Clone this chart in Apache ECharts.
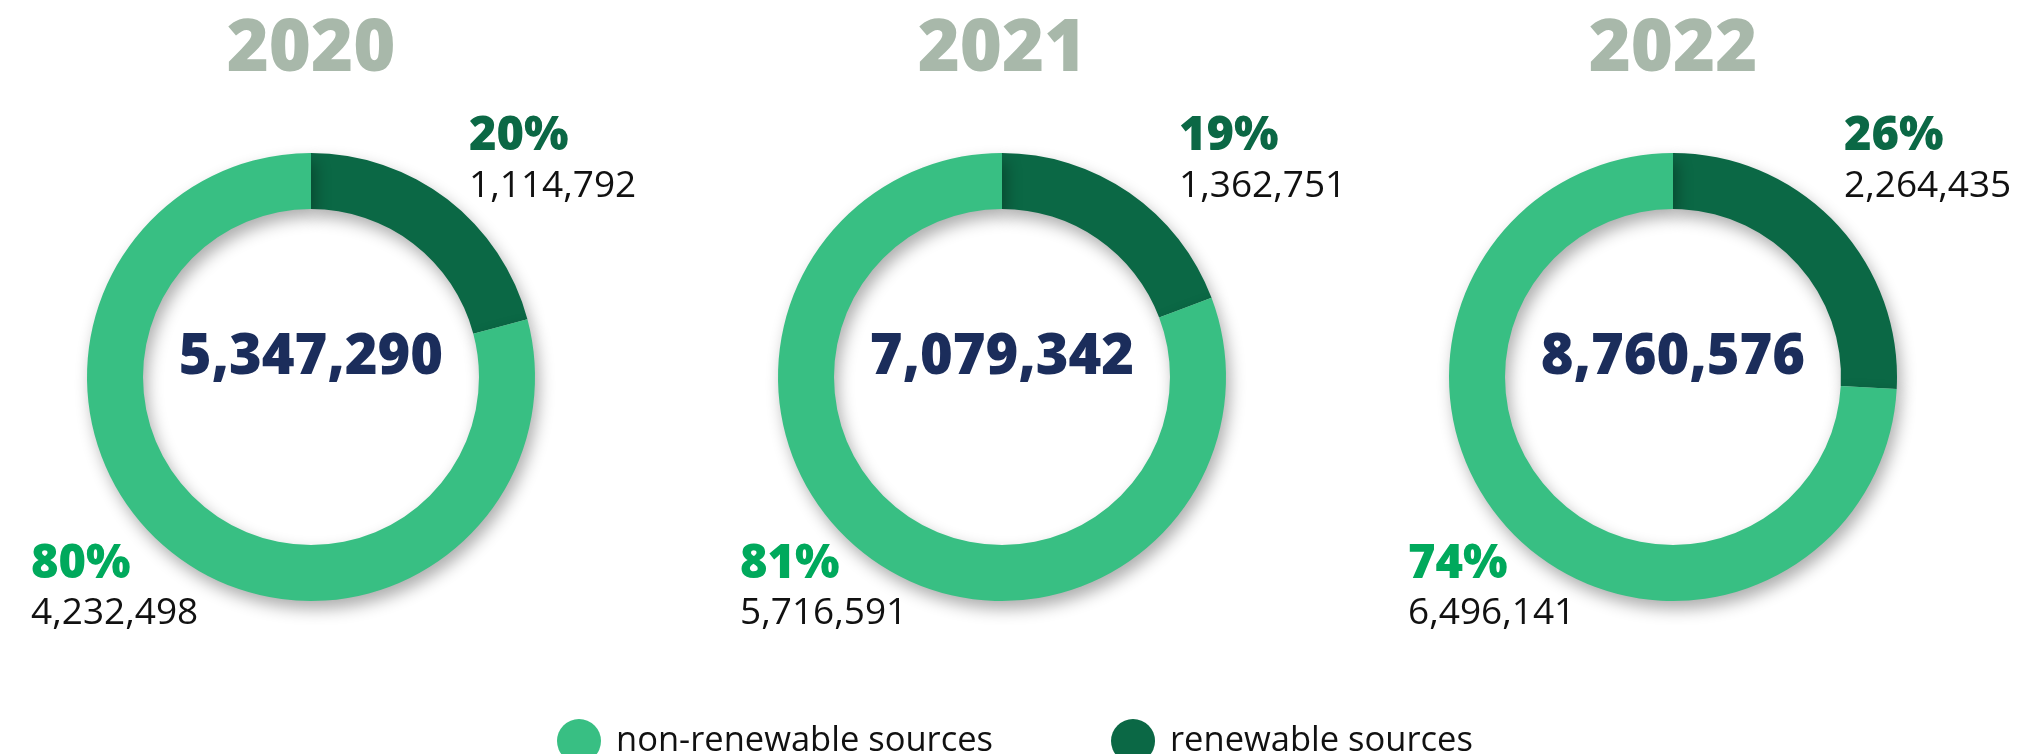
<!DOCTYPE html>
<html>
<head>
<meta charset="utf-8">
<script src="https://cdn.jsdelivr.net/npm/echarts@6/dist/echarts.min.js"></script>
<style>
html,body{margin:0;padding:0;background:#fff;}
#chart{width:2019px;height:754px;}
</style>
</head>
<body>
<div id="chart"></div>
<script>
const years = ['2020', '2021', '2022'];
const categories = ['renewable sources', 'non-renewable sources'];
const renewable = [1114792, 1362751, 2264435];
const nonRenewable = [4232498, 5716591, 6496141];
const renewablePct = ['20%', '19%', '26%'];
const nonRenewablePct = ['80%', '81%', '74%'];

const colorRenew = '#0b6845';
const colorNon = '#38bf83';
const centers = [[311, 377], [1002, 377], [1673, 377]];
const rightLabelX = [469, 1179, 1844];
const leftLabelX = [31, 740, 1408];

const fmt = v => v.toLocaleString('en-US');
const font = '"Open Sans", "Noto Sans", sans-serif';

const series = years.map((y, i) => ({
  type: 'pie',
  name: y,
  center: centers[i],
  radius: [168, 224],
  startAngle: 90,
  clockwise: true,
  silent: true,
  label: { show: false },
  labelLine: { show: false },
  itemStyle: {
    shadowBlur: 16,
    shadowColor: 'rgba(0,0,0,0.32)',
    shadowOffsetX: 4,
    shadowOffsetY: 8
  },
  data: [
    { name: categories[0], value: renewable[i], itemStyle: { color: colorRenew } },
    { name: categories[1], value: nonRenewable[i], itemStyle: { color: colorNon } }
  ]
}));

const graphics = [];
years.forEach((y, i) => {
  const total = renewable[i] + nonRenewable[i];
  graphics.push({ type: 'text', x: centers[i][0], y: 50, style: { text: y, font: '800 72px ' + font, fill: '#a8b8aa', textAlign: 'center', textVerticalAlign: 'middle' } });
  graphics.push({ type: 'text', x: centers[i][0], y: 358, style: { text: fmt(total), font: '800 56px ' + font, fill: '#1b2d5b', textAlign: 'center', textVerticalAlign: 'middle' } });
  graphics.push({ type: 'text', x: rightLabelX[i], y: 137, style: { text: renewablePct[i], font: '800 47px ' + font, fill: '#0b6845', textAlign: 'left', textVerticalAlign: 'middle' } });
  graphics.push({ type: 'text', x: rightLabelX[i], y: 186, style: { text: fmt(renewable[i]), font: '400 37px ' + font, fill: '#111', textAlign: 'left', textVerticalAlign: 'middle' } });
  graphics.push({ type: 'text', x: leftLabelX[i], y: 565, style: { text: nonRenewablePct[i], font: '800 47px ' + font, fill: '#00a95c', textAlign: 'left', textVerticalAlign: 'middle' } });
  graphics.push({ type: 'text', x: leftLabelX[i], y: 613, style: { text: fmt(nonRenewable[i]), font: '400 37px ' + font, fill: '#111', textAlign: 'left', textVerticalAlign: 'middle' } });
});

const chart = echarts.init(document.getElementById('chart'));
chart.setOption({
  animation: false,
  backgroundColor: '#ffffff',
  legend: {
    data: [categories[1], categories[0]],
    left: 552,
    top: 714,
    icon: 'circle',
    itemWidth: 44,
    itemHeight: 44,
    itemGap: 118,
    textStyle: { fontFamily: font, fontSize: 34.5, color: '#111', padding: [0, 0, 0, 10] },
    selectedMode: false
  },
  series: series,
  graphic: graphics
});
</script>
</body>
</html>
